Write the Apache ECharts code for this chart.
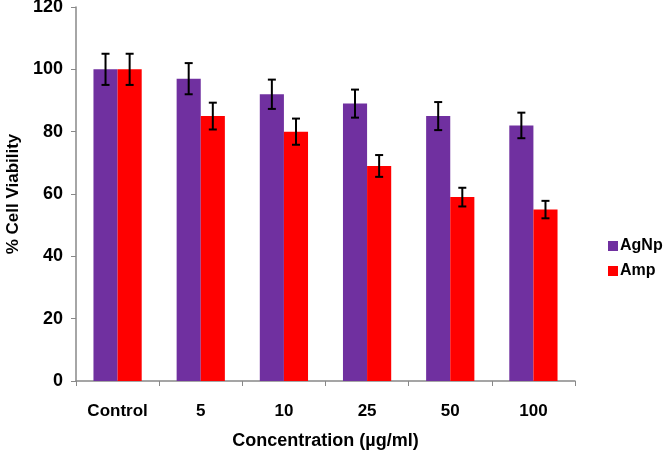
<!DOCTYPE html>
<html>
<head>
<meta charset="utf-8">
<script src="https://cdn.jsdelivr.net/npm/echarts@6/dist/echarts.min.js"></script>
<style>html,body{margin:0;padding:0;background:#fff}#c{width:665px;height:455px}</style>
</head>
<body>
<div id="c"></div>
<script>
const categories = ['Control', '5', '10', '25', '50', '100'];
const agnp = [100, 97, 92, 89, 85, 82];
const amp = [100, 85, 80, 69, 59, 55];
const agnpErr = [5, 5, 4.7, 4.5, 4.5, 4.1];
const ampErr = [5, 4.3, 4.2, 3.5, 3, 2.8];
const yTicks = [0, 20, 40, 60, 80, 100, 120];

const CAT_GAP = 0.42;
const FONT = 'Liberation Sans, Arial, sans-serif';

function errSeries(name, vals, errs, side) {
  return {
    type: 'custom',
    name: name + ' err',
    z: 10,
    data: vals.map((v, i) => [i, v, errs[i]]),
    renderItem: function (params, api) {
      const i = api.value(0), v = api.value(1), e = api.value(2);
      const band = api.size([1, 0])[0];
      const barW = band * (1 - CAT_GAP) / 2;
      const c = api.coord([i, v]);
      const x = c[0] + side * barW / 2;
      const top = api.coord([i, v + e])[1];
      const bot = api.coord([i, v - e])[1];
      const cap = 4;
      const st = { stroke: '#000', lineWidth: 2 };
      return {
        type: 'group',
        children: [
          { type: 'line', shape: { x1: x, y1: top, x2: x, y2: bot }, style: st },
          { type: 'line', shape: { x1: x - cap, y1: top, x2: x + cap, y2: top }, style: st },
          { type: 'line', shape: { x1: x - cap, y1: bot, x2: x + cap, y2: bot }, style: st }
        ]
      };
    },
    encode: { x: 0, y: 1 },
    silent: true
  };
}

const chart = echarts.init(document.getElementById('c'));
chart.setOption({
  animation: false,
  backgroundColor: '#fff',
  grid: { left: 76, top: 7, right: 90, bottom: 74, containLabel: false, outerBoundsMode: 'none' },
  legend: {
    data: ['AgNp', 'Amp'],
    orient: 'vertical',
    left: 603,
    top: 233,
    itemWidth: 10,
    itemHeight: 10,
    itemGap: 9,
    icon: 'rect',
    textStyle: { fontFamily: FONT, fontWeight: 'bold', fontSize: 16, color: '#000', padding: [0, 0, 0, -3] }
  },
  xAxis: {
    type: 'category',
    data: categories,
    name: 'Concentration (µg/ml)',
    nameLocation: 'middle',
    nameGap: 51,
    nameTextStyle: { fontFamily: FONT, fontWeight: 'bold', fontSize: 18, color: '#000' },
    axisLine: { lineStyle: { color: '#888', width: 1.5 } },
    axisTick: { show: true, alignWithLabel: false, length: 5, lineStyle: { color: '#888' } },
    axisLabel: { fontFamily: FONT, fontWeight: 'bold', fontSize: 17, color: '#000', margin: 22 }
  },
  yAxis: {
    type: 'value',
    min: 0,
    max: 120,
    interval: 20,
    name: '% Cell Viability',
    nameLocation: 'middle',
    nameGap: 54,
    nameRotate: 90,
    nameTextStyle: { fontFamily: FONT, fontWeight: 'bold', fontSize: 17, color: '#000' },
    axisLine: { show: true, lineStyle: { color: '#888', width: 1.5 } },
    axisTick: { show: true, length: 5, lineStyle: { color: '#888' } },
    splitLine: { show: false },
    axisLabel: {
      fontFamily: FONT, fontWeight: 'bold', fontSize: 18, color: '#000', margin: 13,
      formatter: v => yTicks.includes(v) ? String(v) : ''
    }
  },
  series: [
    { name: 'AgNp', type: 'bar', data: agnp, barGap: '0%', barCategoryGap: (CAT_GAP * 100) + '%', itemStyle: { color: '#7030A0' } },
    { name: 'Amp', type: 'bar', data: amp, barGap: '0%', barCategoryGap: (CAT_GAP * 100) + '%', itemStyle: { color: '#FF0000' } },
    errSeries('AgNp', agnp, agnpErr, -1),
    errSeries('Amp', amp, ampErr, 1)
  ]
});
</script>
</body>
</html>
